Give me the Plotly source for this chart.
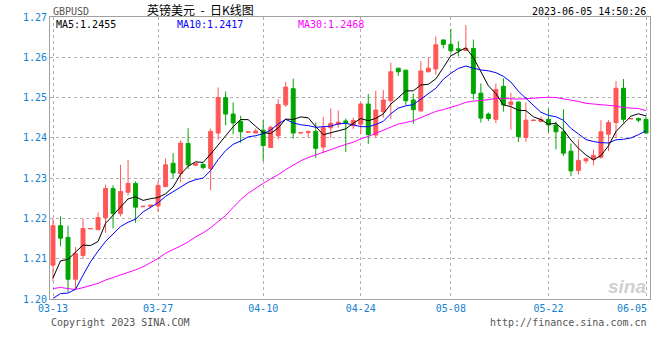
import pandas as pd
import plotly.graph_objects as go

# ---------------- data ----------------
missing_days = ["2023-04-23", "2023-04-30", "2023-05-07", "2023-05-14", "2023-05-28"]
all_days = pd.date_range("2023-03-13", "2023-06-05", freq="D")
dates = [d.strftime("%m-%d") for d in all_days if d.strftime("%Y-%m-%d") not in missing_days]

opens = [1.2084, 1.2182, 1.2153, 1.2049, 1.2108, 1.2174, 1.2172, 1.2202, 1.2274, 1.2212,
         1.2265, 1.2287, 1.2229, 1.2230, 1.2231, 1.2279, 1.2337, 1.2311, 1.2386, 1.2332,
         1.2334, 1.2324, 1.2412, 1.2500, 1.2459, 1.2441, 1.2414, 1.2412, 1.2419, 1.2376,
         1.2405, 1.2482, 1.2522, 1.2412, 1.2413, 1.2416, 1.2377, 1.2425, 1.2434, 1.2442,
         1.2430, 1.2434, 1.2484, 1.2407, 1.2465, 1.2492, 1.2573, 1.2568, 1.2494, 1.2467,
         1.2564, 1.2571, 1.2643, 1.2632, 1.2621, 1.2617, 1.2622, 1.2511, 1.2459, 1.2446,
         1.2528, 1.2483, 1.2489, 1.2401, 1.2443, 1.2441, 1.2446, 1.2432, 1.2415, 1.2367,
         1.2319, 1.2343, 1.2346, 1.2352, 1.2409, 1.2438, 1.2523, 1.2447, 1.2448, 1.2446]
highs = [1.2199, 1.2205, 1.2182, 1.2129, 1.2199, 1.2175, 1.2215, 1.2284, 1.2282, 1.2333,
         1.2345, 1.2292, 1.2231, 1.2233, 1.2293, 1.2349, 1.2362, 1.2394, 1.2424, 1.2338,
         1.2337, 1.2423, 1.2525, 1.2515, 1.2488, 1.2455, 1.2415, 1.2423, 1.2444, 1.2431,
         1.2496, 1.2538, 1.2547, 1.2413, 1.2419, 1.2438, 1.2452, 1.2473, 1.2468, 1.2448,
         1.2450, 1.2488, 1.2509, 1.2517, 1.2519, 1.2587, 1.2573, 1.2569, 1.2510, 1.2590,
         1.2600, 1.2652, 1.2644, 1.2670, 1.2640, 1.2680, 1.2644, 1.2535, 1.2463, 1.2535,
         1.2548, 1.2512, 1.2490, 1.2488, 1.2444, 1.2453, 1.2473, 1.2440, 1.2471, 1.2386,
         1.2396, 1.2351, 1.2371, 1.2444, 1.2444, 1.2541, 1.2546, 1.2448, 1.2450, 1.2453]
lows = [1.2044, 1.2131, 1.2017, 1.2023, 1.2100, 1.2174, 1.2172, 1.2164, 1.2175, 1.2205,
        1.2257, 1.2189, 1.2229, 1.2225, 1.2216, 1.2277, 1.2299, 1.2290, 1.2323, 1.2330,
        1.2322, 1.2270, 1.2394, 1.2431, 1.2409, 1.2388, 1.2413, 1.2411, 1.2342, 1.2376,
        1.2396, 1.2477, 1.2398, 1.2412, 1.2401, 1.2350, 1.2363, 1.2400, 1.2425, 1.2365,
        1.2422, 1.2409, 1.2385, 1.2401, 1.2450, 1.2447, 1.2554, 1.2481, 1.2435, 1.2465,
        1.2563, 1.2557, 1.2622, 1.2611, 1.2602, 1.2616, 1.2495, 1.2438, 1.2442, 1.2436,
        1.2465, 1.2420, 1.2390, 1.2390, 1.2443, 1.2438, 1.2413, 1.2371, 1.2355, 1.2305,
        1.2309, 1.2336, 1.2332, 1.2348, 1.2367, 1.2399, 1.2438, 1.2447, 1.2439, 1.2412]
closes = [1.2182, 1.2151, 1.2049, 1.2113, 1.2175, 1.2175, 1.2202, 1.2274, 1.2212, 1.2267,
          1.2287, 1.2228, 1.2230, 1.2233, 1.2282, 1.2333, 1.2313, 1.2387, 1.2333, 1.2336,
          1.2326, 1.2416, 1.2500, 1.2459, 1.2437, 1.2415, 1.2415, 1.2417, 1.2381, 1.2426,
          1.2483, 1.2526, 1.2412, 1.2413, 1.2415, 1.2374, 1.2425, 1.2436, 1.2439, 1.2438,
          1.2443, 1.2484, 1.2408, 1.2469, 1.2494, 1.2564, 1.2564, 1.2492, 1.2470, 1.2566,
          1.2573, 1.2631, 1.2632, 1.2616, 1.2617, 1.2622, 1.2510, 1.2449, 1.2448, 1.2520,
          1.2482, 1.2489, 1.2403, 1.2444, 1.2444, 1.2446, 1.2432, 1.2415, 1.2362, 1.2318,
          1.2344, 1.2348, 1.2356, 1.2415, 1.2438, 1.2523, 1.2446, 1.2448, 1.2444, 1.2412]
# closes of the 29 sessions before 03-13 (needed for the moving averages)
prior_closes = [1.2060, 1.2140, 1.2175, 1.2040, 1.2025, 1.2030, 1.2030, 1.2035, 1.2045, 1.2100,
                1.2055, 1.2000, 1.1945, 1.1945, 1.1950, 1.2065, 1.2090, 1.2035, 1.1955, 1.2035,
                1.2035, 1.2035, 1.2020, 1.1825, 1.1840, 1.1940, 1.2030, 1.2030, 1.2080]

tick_dates = ["03-13", "03-27", "04-10", "04-24", "05-08", "05-22", "06-05"]
y_ticks = [1.20, 1.21, 1.22, 1.23, 1.24, 1.25, 1.26, 1.27]

# ---------------- moving averages ----------------
full = pd.Series(prior_closes + closes)
n0 = len(prior_closes)
ma5 = full.rolling(5).mean().iloc[n0:].tolist()
ma10 = full.rolling(10).mean().iloc[n0:].tolist()
ma30 = full.rolling(30).mean().iloc[n0:].tolist()

RED = "#ff5656"
GREEN = "#00a600"
BLUE_TXT = "#137fcf"
MONO = "DejaVu Sans Mono"

fig = go.Figure()
fig.add_trace(go.Candlestick(
    x=dates, open=opens, high=highs, low=lows, close=closes,
    increasing=dict(line=dict(color=RED, width=1), fillcolor=RED),
    decreasing=dict(line=dict(color=GREEN, width=1), fillcolor=GREEN),
    whiskerwidth=0, showlegend=False, hoverinfo="skip"))
fig.add_trace(go.Scatter(x=dates, y=ma30, mode="lines", line=dict(color="#ff00ff", width=1),
                         showlegend=False, hoverinfo="skip"))
fig.add_trace(go.Scatter(x=dates, y=ma10, mode="lines", line=dict(color="#0000ff", width=1),
                         showlegend=False, hoverinfo="skip"))
fig.add_trace(go.Scatter(x=dates, y=ma5, mode="lines", line=dict(color="#000000", width=1),
                         showlegend=False, hoverinfo="skip"))

fig.update_layout(
    width=660, height=360,
    margin=dict(l=50, r=10, t=17, b=61, autoexpand=False),
    paper_bgcolor="white", plot_bgcolor="white",
    boxgap=0.25,
    showlegend=False,
    hovermode=False,
    font=dict(family=MONO, size=10, color="#000"),
)
# last tick label is drawn right-aligned as an annotation (as in the original)
fig.update_xaxes(
    type="category", rangeslider=dict(visible=False), automargin=False,
    range=[-0.4, len(dates) - 0.47],
    tickmode="array", tickvals=tick_dates, ticktext=tick_dates[:-1] + [""],
    tickfont=dict(family=MONO, size=10, color=BLUE_TXT), tickangle=0,
    showgrid=True, gridcolor="#b0b0b0", griddash="dot", gridwidth=1,
    showline=True, mirror=True, linecolor="#a0a0a0", linewidth=1,
    ticks="", zeroline=False,
)
fig.update_yaxes(
    range=[1.20, 1.27], tickmode="array", tickvals=y_ticks, automargin=False,
    ticktext=[f"{v:.2f}" for v in y_ticks],
    tickfont=dict(family=MONO, size=10, color=BLUE_TXT),
    showgrid=True, gridcolor="#b0b0b0", griddash="dot", gridwidth=1,
    showline=True, mirror=True, linecolor="#a0a0a0", linewidth=1,
    ticks="", zeroline=False,
)

def ann(text, x, y, xanchor="left", color="#000", size=10, family=MONO, **kw):
    fig.add_annotation(text=text, x=x, y=y, xref="paper", yref="paper",
                       xanchor=xanchor, yanchor="middle", showarrow=False,
                       font=dict(family=family, size=size, color=color, **kw))

ann("GBPUSD", 0.0017, 1.021, color="#555")
ann("英镑美元\u00a0\u00a0-\u00a0\u00a0日K线图", 0.25, 1.028, xanchor="center", size=12,
    family="Noto Sans CJK SC")
ann("2023-06-05 14:50:26", 0.9967, 1.018, xanchor="right")
ann(f"MA5:{ma5[-1]:.4f}", 0.0067, 0.975, color="#000000")
ann(f"MA10:{ma10[-1]:.4f}", 0.2083, 0.975, color="#0000ff")
ann(f"MA30:{ma30[-1]:.4f}", 0.41, 0.975, color="#ff00ff")
ann(tick_dates[-1], 0.9983, -0.033, xanchor="right", color=BLUE_TXT)
ann("Copyright 2023 SINA.COM", -0.0017, -0.085, color="#555")
ann("http://finance.sina.com.cn", 0.9983, -0.085, xanchor="right", color="#555")
ann("sina", 0.997, 0.045, xanchor="right", color="#cfcfcf", size=19,
    family="Liberation Sans", weight="bold", style="italic")

fig.write_html("out.html", config={"displayModeBar": False},
               post_script="document.body.style.margin='0';document.body.style.overflow='hidden';")
